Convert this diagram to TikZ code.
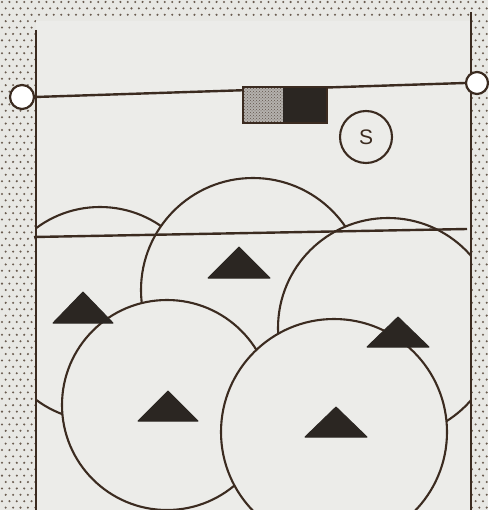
\documentclass[tikz,border=0pt]{standalone}
\usepackage{fontspec}
\setsansfont{Liberation Sans}
\usetikzlibrary{patterns}
\definecolor{bg}{HTML}{E8E8E4}
\definecolor{court}{HTML}{ECECE9}
\definecolor{ink}{HTML}{3B2B20}
\definecolor{dotc}{HTML}{6A5C50}
\definecolor{tri}{HTML}{2B2622}
\definecolor{blockgray}{HTML}{B4B1AD}
\tikzset{
  courtline/.style={draw=ink, line width=2.4pt},
  zone/.style={fill=court, draw=ink, line width=2.1pt},
  player/.style={fill=tri, draw=tri, line width=1pt, line join=round},
  antenna/.style={draw=ink, fill=white, circle, line width=2.2pt, inner sep=0pt},
}
\begin{document}
\begin{tikzpicture}[x=1pt,y=-1pt]
\useasboundingbox (0,0) rectangle (488,510);
% stippled background
\fill[bg] (0,0) rectangle (488,510);
\foreach \r [evaluate=\r as \yy using \r*6.4+2, evaluate=\r as \off using {mod(\r,2)*3.7+2}] in {0,...,80} {
  \fill[dotc] \foreach \c in {0,...,4,63,64,65,66} { (\off+\c*7.4,\yy) circle (1.15) };
}
\foreach \r [evaluate=\r as \yy using \r*6.4+2, evaluate=\r as \off using {mod(\r,2)*3.7+2}] in {0,1,2} {
  \fill[dotc] \foreach \c in {5,...,62} { (\off+\c*7.4,\yy) circle (1.15) };
}
% court surface
\fill[court] (36,21) rectangle (471,510);
% zones of responsibility
\begin{scope}
  \clip (36,0) rectangle (471,510);
  \draw[zone] (100,314) circle (107);
  \draw[zone] (253,290) circle (112);
  \draw[zone] (388,328) circle (110);
  \draw[zone] (167,405) circle (105);
  \draw[zone] (334,432) circle (113);
\end{scope}
% court lines
\draw[courtline] (36,30) -- (36,510);
\draw[courtline] (471,12) -- (471,510);
\coordinate (atkL) at (34,237);
\coordinate (atkR) at (467,229);
\draw[courtline] (atkL) -- (atkR);
% net with antennas
\node[antenna, minimum size=24pt] (antL) at (22,97) {};
\node[antenna, minimum size=22pt] (antR) at (477,83) {};
\draw[courtline] (antL.east) -- (antR.west);
% block
\fill[blockgray] (243,87) rectangle (283,123);
\fill[pattern=crosshatch dots, pattern color=ink!80] (243,87) rectangle (283,123);
\fill[tri] (283,87) rectangle (327,123);
\draw[ink, line width=1.8pt] (243,87) rectangle (327,123);
% setter
\node[draw=ink, circle, line width=2.1pt, minimum size=52pt, inner sep=0pt,
      text=ink, font=\sffamily\fontsize{21}{21}\selectfont] (s) at (366,137) {S};
% players
\foreach \x/\ya/\yb/\w in {83/292/323/30, 239/247/278/31, 398/317/347/31, 168/391/421/30, 336/407/437/31}
  \filldraw[player] (\x-\w,\yb) -- (\x,\ya) -- (\x+\w,\yb) -- cycle;
\end{tikzpicture}
\end{document}
